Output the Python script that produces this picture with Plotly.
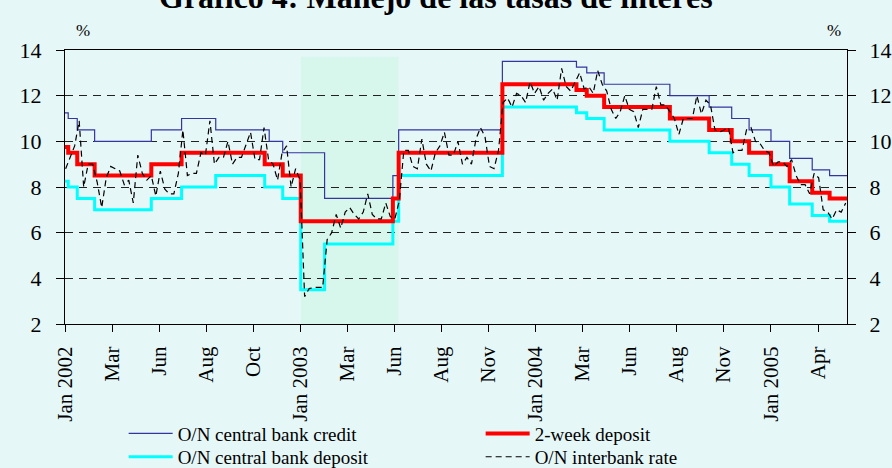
import plotly.graph_objects as go
import pandas as pd

# ---------------- data ----------------
credit_dates = ["2002-01-01", "2002-01-06", "2002-01-20", "2002-02-16", "2002-05-15", "2002-07-01",
                "2002-08-23", "2002-11-14", "2002-12-05", "2003-02-08", "2003-05-25", "2003-06-03",
                "2003-11-11", "2004-03-05", "2004-03-21", "2004-04-17", "2004-07-28", "2004-09-27",
                "2004-11-01", "2004-11-28", "2005-01-01", "2005-01-30", "2005-03-06", "2005-04-02",
                "2005-04-29"]
credit_vals = [11.25, 11.0, 10.5, 10.0, 10.5, 11.0, 10.5, 10.0, 9.5, 7.5, 8.5, 10.5,
               13.5, 13.25, 13.0, 12.5, 12.0, 11.5, 11.0, 10.5, 10.0, 9.25, 8.75, 8.5, 8.5]

deposit_dates = ["2002-01-01", "2002-01-06", "2002-01-20", "2002-02-16", "2002-05-15", "2002-07-01",
                 "2002-08-23", "2002-11-07", "2002-12-05", "2003-01-02", "2003-02-08", "2003-05-25",
                 "2003-06-03", "2003-11-11", "2004-03-05", "2004-03-21", "2004-04-17", "2004-07-28",
                 "2004-09-27", "2004-11-01", "2004-11-28", "2005-01-01", "2005-01-30", "2005-03-06",
                 "2005-04-02", "2005-04-29"]
deposit_vals = [8.25, 8.0, 7.5, 7.0, 7.5, 8.0, 8.5, 8.0, 7.5, 3.5, 5.5, 6.5, 8.5, 11.5,
                11.25, 11.0, 10.5, 10.0, 9.5, 9.0, 8.5, 8.0, 7.25, 6.75, 6.5, 6.5]

twoweek_dates = ["2002-01-01", "2002-01-06", "2002-01-20", "2002-02-16", "2002-05-15", "2002-07-01",
                 "2002-11-07", "2002-12-05", "2003-01-02", "2003-05-25", "2003-06-03", "2003-11-11",
                 "2004-03-05", "2004-03-21", "2004-04-17", "2004-07-28", "2004-09-27", "2004-11-01",
                 "2004-11-28", "2005-01-01", "2005-01-30", "2005-03-06", "2005-04-02", "2005-04-29"]
twoweek_vals = [9.75, 9.5, 9.0, 8.5, 9.0, 9.5, 9.0, 8.5, 6.5, 7.5, 9.5, 12.5,
                12.25, 12.0, 11.5, 11.0, 10.5, 10.0, 9.5, 9.0, 8.25, 7.75, 7.5, 7.5]

# O/N interbank rate, weekly readings starting 2 Jan 2002
interbank_start = "2002-01-02"
interbank_vals = [
    8.8, 9.3, 9.8, 10.9, 8.0, 9.0, 9.0, 8.2, 7.1, 8.4,
    8.9, 8.8, 8.7, 8.1, 8.3, 7.3, 9.4, 8.6, 8.3, 8.5,
    7.6, 8.7, 7.9, 7.7, 7.7, 8.6, 10.5, 8.5, 8.6, 8.6,
    9.5, 9.4, 10.9, 9.0, 9.3, 9.3, 10.0, 9.0, 9.3, 9.3,
    9.9, 10.4, 9.2, 9.2, 10.6, 9.2, 9.0, 8.3, 9.5, 9.8,
    8.0, 8.8, 8.3, 3.2, 3.55, 3.6, 3.6, 3.6, 5.7, 6.0,
    6.8, 6.2, 6.9, 7.1, 6.8, 6.6, 6.9, 7.7, 6.8, 6.6,
    6.6, 7.3, 6.7, 6.6, 7.4, 9.6, 9.6, 8.9, 8.8, 10.1,
    9.0, 8.7, 9.5, 9.8, 10.4, 9.4, 9.4, 10.0, 9.0, 9.3,
    9.0, 10.1, 10.6, 10.2, 8.9, 8.8, 9.6, 11.7, 11.9, 11.5,
    12.1, 12.0, 11.7, 12.6, 12.1, 12.4, 11.8, 12.1, 12.3, 11.8,
    13.2, 12.4, 12.2, 12.6, 13.0, 12.3, 12.4, 12.1, 13.1, 12.5,
    12.2, 11.4, 11.0, 11.3, 12.0, 11.4, 11.3, 10.6, 11.4, 11.4,
    11.4, 12.4, 11.6, 11.6, 11.3, 11.0, 10.3, 11.0, 11.0, 11.0,
    12.0, 11.2, 11.8, 11.6, 10.5, 10.4, 10.5, 10.6, 9.5, 9.6,
    9.6, 10.5, 10.6, 10.0, 9.9, 9.6, 9.5, 8.9, 9.1, 9.1,
    8.9, 9.2, 8.5, 8.1, 8.1, 7.7, 8.6, 8.4, 7.0, 6.9,
    6.6, 7.0, 6.9, 7.3,
]
interbank_dates = pd.date_range(interbank_start, periods=len(interbank_vals), freq="7D")

tick_dates = ["2002-01-01", "2002-03-15", "2002-05-27", "2002-08-08", "2002-10-20",
              "2003-01-01", "2003-03-15", "2003-05-27", "2003-08-08", "2003-10-20",
              "2004-01-01", "2004-03-14", "2004-05-26", "2004-08-07", "2004-10-19",
              "2005-01-01", "2005-03-15"]
tick_labels = ["Jan 2002", "Mar", "Jun", "Aug", "Oct",
               "Jan 2003", "Mar", "Jun", "Aug", "Nov",
               "Jan 2004", "Mar", "Jun", "Aug", "Nov",
               "Jan 2005", "Apr"]

x_range = ["2002-01-01", "2005-04-29"]
band = ["2003-01-02", "2003-06-03"]

FONT = "Liberation Serif, Times New Roman, serif"
BG = "#e6f7f8"

# ---------------- figure ----------------
fig = go.Figure()
fig.add_trace(go.Scatter(x=credit_dates, y=credit_vals, mode="lines", name="O/N central bank credit",
                         line=dict(color="#3535a0", width=1.2, shape="hv"), legend="legend"))
fig.add_trace(go.Scatter(x=deposit_dates, y=deposit_vals, mode="lines", name="O/N central bank deposit",
                         line=dict(color="#00ffff", width=3, shape="hv"), legend="legend2"))
fig.add_trace(go.Scatter(x=twoweek_dates, y=twoweek_vals, mode="lines", name="2-week deposit",
                         line=dict(color="#ff0000", width=4, shape="hv"), legend="legend"))
fig.add_trace(go.Scatter(x=interbank_dates, y=interbank_vals, mode="lines", name="O/N interbank rate",
                         line=dict(color="#000000", width=1.2, dash="6px,4px"), legend="legend2",
                         yaxis="y2"))

fig.add_shape(type="rect", xref="x", yref="y", x0=band[0], x1=band[1], y0=2, y1=13.7,
              fillcolor="#d8f7ec", line=dict(width=0), layer="below")

fig.add_annotation(text="<b>Gráfico 4: Manejo de las tasas de interés</b>", xref="paper", yref="paper",
                   x=0.474, y=1.122, xanchor="center", yanchor="bottom", showarrow=False,
                   font=dict(family=FONT, size=32, color="black"))
fig.add_annotation(text="%", xref="paper", yref="paper", x=0.023, y=1.03, xanchor="center",
                   yanchor="bottom", showarrow=False, font=dict(family=FONT, size=17, color="black"))
fig.add_annotation(text="%", xref="paper", yref="paper", x=0.984, y=1.03, xanchor="center",
                   yanchor="bottom", showarrow=False, font=dict(family=FONT, size=17, color="black"))

axis_font = dict(family=FONT, size=22, color="black")
legend_common = dict(orientation="h", xanchor="left", yanchor="middle", entrywidth=298,
                     itemwidth=44, bgcolor="rgba(0,0,0,0)",
                     font=dict(family=FONT, size=19, color="black"))
fig.update_layout(
    width=892, height=468,
    margin=dict(l=65, r=45, t=50, b=144, autoexpand=False),
    paper_bgcolor=BG, plot_bgcolor=BG,
    font=dict(family=FONT, color="black"),
    xaxis=dict(type="date", range=x_range, tickmode="array", tickvals=tick_dates, ticktext=tick_labels,
               tickangle=-90, ticks="outside", ticklen=7, tickcolor="black", tickwidth=1,
               ticklabelstandoff=6,
               showline=True, linecolor="black", linewidth=1.3, mirror=True, showgrid=False,
               automargin=False, tickfont=dict(family=FONT, size=21, color="black")),
    yaxis=dict(range=[2, 14], dtick=2, ticks="outside", ticklen=8, tickcolor="black",
               ticklabelstandoff=10,
               showline=True, linecolor="black", linewidth=1.3, showgrid=True,
               gridcolor="#222222", gridwidth=1, griddash="8px,6px", zeroline=False,
               automargin=False, tickfont=axis_font),
    yaxis2=dict(range=[2, 14], dtick=2, overlaying="y", side="right", ticks="outside", ticklen=8,
                tickcolor="black", ticklabelstandoff=9,
                showline=True, linecolor="black", linewidth=1.3, showgrid=False,
                zeroline=False, automargin=False, tickfont=axis_font),
    legend=dict(x=0.075, y=-0.40, **legend_common),
    legend2=dict(x=0.075, y=-0.485, **legend_common),
    showlegend=True,
)

fig.write_html("out.html", config={"displayModeBar": False},
               post_script="document.body.style.margin='0';document.body.style.overflow='hidden';"
                           "document.body.style.background='" + BG + "';")
